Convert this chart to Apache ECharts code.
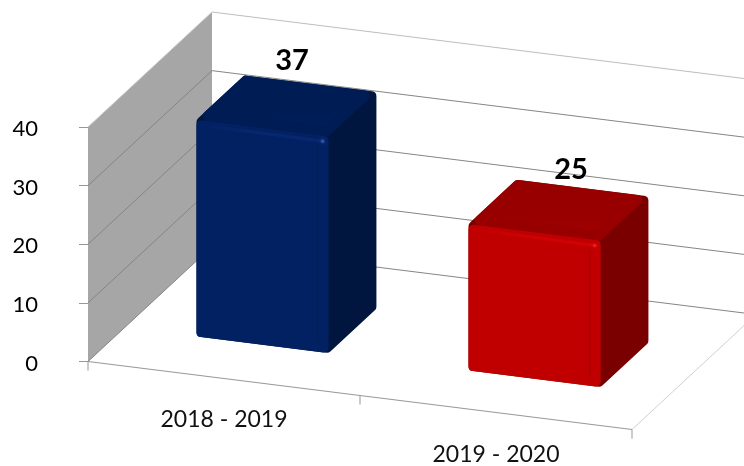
<!DOCTYPE html>
<html>
<head>
<meta charset="utf-8">
<style>html,body{margin:0;padding:0;background:#fff}#c{width:744px;height:466px}</style>
<script src="https://cdn.jsdelivr.net/npm/echarts@6/dist/echarts.min.js"></script>
</head>
<body>
<div id="c"></div>
<script>
var categories = ['2018 - 2019', '2019 - 2020'];
var values = [37, 25];
var yTicks = [0, 10, 20, 30, 40];

// oblique projection of the floor and the depth axis
var SLOPE = 0.125, DEPTH_X = 124, DEPTH_Y = -115;
var FONT = 'Lato';
var BAR_HALF = 0.243, BAR_SHIFT = 2, D0 = 0.295, D1 = 0.68, R = 5;
var palettes = [
  {front: '#022163', top: '#001c55', topNear: '#01205f', side: '#00163f', edge: '#0a2d78', glow: '#2f55a8'},
  {front: '#c00000', top: '#980000', topNear: '#a60000', side: '#7a0000', edge: '#dc0404', glow: '#f02020'}
];
var labelShift = [[7.5, -44.6], [14.5, -40.6]];

var chart = echarts.init(document.getElementById('c'));

function proj(cs, p, d) {
  return [p[0] + DEPTH_X * d, p[1] + SLOPE * (p[0] - cs.x) + DEPTH_Y * d];
}
// offset a convex polygon inwards by r
function inset(pts, r) {
  var n = pts.length, cx = 0, cy = 0;
  pts.forEach(function (p) { cx += p[0] / n; cy += p[1] / n; });
  var lines = pts.map(function (p, i) {
    var q = pts[(i + 1) % n], dx = q[0] - p[0], dy = q[1] - p[1], l = Math.sqrt(dx * dx + dy * dy);
    var nx = -dy / l, ny = dx / l;
    if ((cx - p[0]) * nx + (cy - p[1]) * ny < 0) { nx = -nx; ny = -ny; }
    return {x: p[0] + nx * r, y: p[1] + ny * r, dx: dx, dy: dy};
  });
  return lines.map(function (a, i) {
    var b = lines[(i + n - 1) % n];
    var det = a.dx * b.dy - a.dy * b.dx;
    var t = ((b.x - a.x) * b.dy - (b.y - a.y) * b.dx) / det;
    return [a.x + a.dx * t, a.y + a.dy * t];
  });
}
function roundFace(pts, fill, strokeColor) {
  return {type: 'polygon', shape: {points: inset(pts, R)},
    style: {fill: fill, stroke: strokeColor, lineWidth: R * 2, lineJoin: 'round'}};
}
function seg(a, b, color, w) {
  return {type: 'line', shape: {x1: a[0], y1: a[1], x2: b[0], y2: b[1]}, style: {stroke: color, lineWidth: w}};
}

function renderWalls(params, api) {
  var cs = params.coordSys, v = api.value(1);
  var y = api.coord([0, v])[1], x0 = cs.x, x1 = cs.x + cs.width;
  var kids = [];
  if (params.dataIndex === 0) {
    var low = api.coord([0, yTicks[0]])[1], high = api.coord([0, yTicks[yTicks.length - 1]])[1];
    kids.push({type: 'polygon', shape: {points: [
      proj(cs, [x0, high], 0), proj(cs, [x0, high], 1), proj(cs, [x0, low], 1), proj(cs, [x0, low], 0)
    ]}, style: {fill: '#a6a6a6'}});
    kids.push(seg(proj(cs, [x1, low], 0), proj(cs, [x1, low], 1), '#d0d0d0', 1));
  }
  var isTop = v === yTicks[yTicks.length - 1];
  kids.push(seg(proj(cs, [x0, y], 0), proj(cs, [x0, y], 1), isTop ? '#c8c8c8' : '#858585', 1));
  kids.push(seg(proj(cs, [x0, y], 1), proj(cs, [x1, y], 1), isTop ? '#bdbdbd' : '#858585', 1));
  return {type: 'group', children: kids};
}

function renderFloorAxis(params, api) {
  var cs = params.coordSys, low = api.coord([0, 0])[1], x0 = cs.x, x1 = cs.x + cs.width;
  var band = cs.width / categories.length, kids = [seg(proj(cs, [x0, low], 0), proj(cs, [x1, low], 0), '#979797', 1)];
  for (var i = 0; i <= categories.length; i++) {
    var a = proj(cs, [x0 + band * i, low], 0);
    kids.push(seg(a, [a[0], a[1] + 9], '#979797', 1));
  }
  return {type: 'group', children: kids};
}

function renderBar(params, api) {
  var cs = params.coordSys, i = api.value(0), v = api.value(1), pal = palettes[i];
  var t = api.coord([i, v]), b = api.coord([i, 0]), half = api.size([1, 0])[0] * BAR_HALF;
  var L = t[0] - half + BAR_SHIFT, Rr = t[0] + half + BAR_SHIFT;
  var ftl = proj(cs, [L, t[1]], D0), ftr = proj(cs, [Rr, t[1]], D0);
  var fbl = proj(cs, [L, b[1]], D0), fbr = proj(cs, [Rr, b[1]], D0);
  var btl = proj(cs, [L, t[1]], D1), btr = proj(cs, [Rr, t[1]], D1);
  var bbr = proj(cs, [Rr, b[1]], D1);
  var G = echarts.graphic.LinearGradient;
  var frontFill = new G(0, 0, 1, 0, [
    {offset: 0, color: pal.front}, {offset: 0.9, color: pal.front}, {offset: 1, color: pal.side}
  ]);
  var topFill = new G(0, 0, 0, 1, [
    {offset: 0, color: pal.top}, {offset: 0.6, color: pal.top}, {offset: 1, color: pal.topNear}
  ]);
  var c = proj(cs, [t[0], t[1]], (D0 + D1) / 2);
  var shift = labelShift[i];
  return {type: 'group', children: [
    roundFace([ftl, btl, btr, bbr, fbr, fbl], pal.side, pal.side),
    roundFace([ftl, btl, btr, ftr], topFill, pal.top),
    roundFace([ftl, ftr, fbr, fbl], frontFill, pal.front),
    {type: 'line', shape: {x1: ftl[0] + 3, y1: ftl[1] + 5, x2: ftr[0] - 6, y2: ftr[1] + 5},
      style: {stroke: new G(0, 0, 1, 0, [{offset: 0, color: pal.front}, {offset: 0.5, color: pal.edge}, {offset: 1, color: pal.edge}]), lineWidth: 3, opacity: 0.55}},
    {type: 'circle', shape: {cx: ftr[0] - 6, cy: ftr[1] + 5, r: 1.6}, style: {fill: pal.glow, shadowBlur: 3, shadowColor: pal.glow}},
    {type: 'text', style: {x: c[0] + shift[0], y: c[1] + shift[1], text: String(v), align: 'center', verticalAlign: 'middle',
      font: 'bold 29px ' + FONT, fill: '#000'}}
  ]};
}

chart.setOption({
  animation: false,
  backgroundColor: '#fff',
  grid: {left: 88, top: 127, width: 544, height: 235, containLabel: false},
  xAxis: {
    type: 'category', data: categories,
    axisLine: {show: false}, axisTick: {show: false}, splitLine: {show: false},
    axisLabel: {
      show: true, margin: 0, interval: 0, color: '#000', fontFamily: FONT, fontSize: 23,
      formatter: function (val, idx) { return '{c' + idx + '|' + val + '}'; },
      rich: {
        c0: {fontFamily: FONT, fontSize: 23, color: '#111', lineHeight: 24, padding: [93, 0, 0, 0]},
        c1: {fontFamily: FONT, fontSize: 23, color: '#111', lineHeight: 24, padding: [162, 0, 0, 0]}
      }
    }
  },
  yAxis: {
    type: 'value', min: 0, max: 40, interval: 10,
    axisLine: {show: true, lineStyle: {color: '#979797', width: 1}},
    axisTick: {show: true, length: 9, lineStyle: {color: '#979797'}},
    splitLine: {show: false},
    axisLabel: {margin: 50, align: 'right', color: '#000', fontFamily: FONT, fontSize: 22,
      formatter: function (val) { return '{n|' + val + '}'; },
      rich: {n: {fontFamily: FONT, fontSize: 22, color: '#000', lineHeight: 24, padding: [4, 0, 0, 0]}}
    }
  },
  series: [
    {type: 'custom', z: 1, silent: true, data: yTicks.map(function (t) { return [0, t]; }), renderItem: renderWalls, encode: {x: 0, y: 1}, clip: false},
    {type: 'custom', z: 2, silent: true, data: [[0, 0]], renderItem: renderFloorAxis, encode: {x: 0, y: 1}, clip: false},
    {type: 'custom', z: 3, silent: true, data: values.map(function (v, i) { return [i, v]; }), renderItem: renderBar, encode: {x: 0, y: 1}, clip: false}
  ]
});
</script>
</body>
</html>
